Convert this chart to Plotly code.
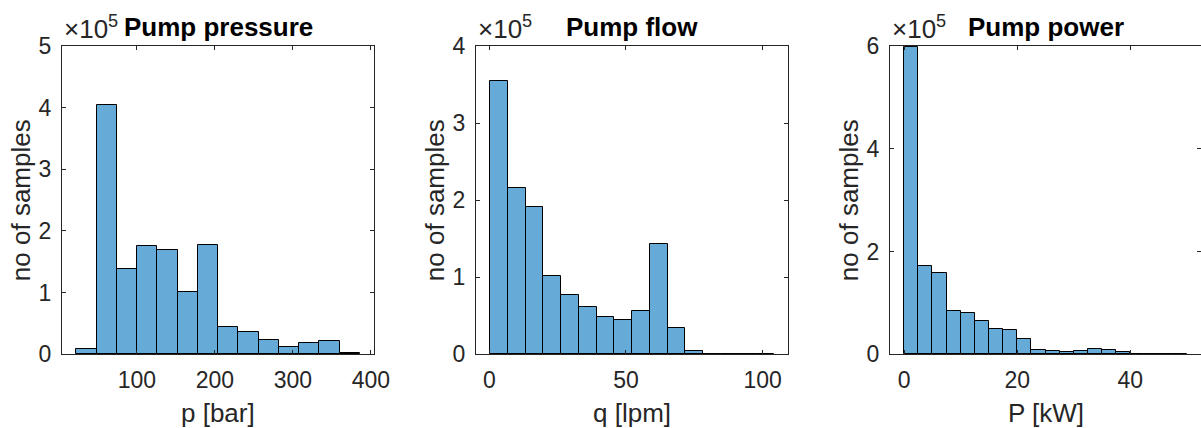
import plotly.graph_objects as go

# ---- data (counts in units of 1e5 samples) ----
pressure_edges_start = 22.3
pressure_bin_width = 25.97
pressure_counts = [0.08, 4.04, 1.39, 1.75, 1.69, 1.01, 1.77, 0.44, 0.36, 0.23, 0.12, 0.19, 0.21, 0.016]

flow_edges_start = 0.24
flow_bin_width = 6.5
flow_counts = [3.55, 2.16, 1.91, 1.02, 0.77, 0.61, 0.49, 0.44, 0.56, 1.43, 0.34, 0.04, 0.006, 0.004, 0.003, 0.002]

power_edges_start = 0.0
power_bin_width = 2.5
power_counts = [5.98, 1.71, 1.58, 0.84, 0.80, 0.65, 0.49, 0.47, 0.29, 0.09, 0.07, 0.045, 0.06, 0.11, 0.08,
                0.04, 0.015, 0.008, 0.004, 0.003]

titles = ["Pump pressure", "Pump flow", "Pump power"]
xlabels = ["p [bar]", "q [lpm]", "P [kW]"]
ylabel = "no of samples"
xranges = [[4, 404], [-4.9, 109.3], [-2.5, 52.5]]
yranges = [[0, 5], [0, 4], [0, 6]]
xticks = [[100, 200, 300, 400], [0, 50, 100], [0, 20, 40]]
yticks = [[0, 1, 2, 3, 4, 5], [0, 1, 2, 3, 4], [0, 2, 4, 6]]

W, H = 1201, 428
left_px = [62, 476, 890]
xdoms = [[62 / W, 374 / W], [476 / W, 788 / W], [890 / W, 1.0]]
ydom = [(H - 354.3) / H, (H - 46) / H]

FONT = "Liberation Sans, Arial, Helvetica, sans-serif"
AX = "#262626"
BAR = "#66AAD7"

fig = go.Figure()
series = [
    (pressure_edges_start, pressure_bin_width, pressure_counts),
    (flow_edges_start, flow_bin_width, flow_counts),
    (power_edges_start, power_bin_width, power_counts),
]
for i, (start, bw, counts) in enumerate(series):
    centers = [start + bw * (k + 0.5) for k in range(len(counts))]
    sfx = "" if i == 0 else str(i + 1)
    fig.add_trace(go.Bar(
        x=centers, y=counts, width=bw,
        marker=dict(color=BAR, line=dict(color="#000000", width=1)),
        xaxis="x" + sfx, yaxis="y" + sfx, showlegend=False,
    ))
    axis_common = dict(
        showline=True, linecolor=AX, linewidth=1, mirror="ticks",
        ticks="inside", ticklen=4, tickcolor=AX, tickwidth=1,
        showgrid=False, zeroline=False, automargin=False,
        tickfont=dict(family=FONT, size=23, color=AX),
    )
    fig.layout["xaxis" + sfx] = dict(
        domain=xdoms[i], range=xranges[i], anchor="y" + sfx,
        tickmode="array", tickvals=xticks[i],
        ticklabelstandoff=5,
        **axis_common,
    )
    fig.layout["yaxis" + sfx] = dict(
        domain=ydom, range=yranges[i], anchor="x" + sfx,
        tickmode="array", tickvals=yticks[i],
        ticklabelstandoff=5,
        **axis_common,
    )
    xref = "x" + sfx + " domain"
    yref = "y" + sfx + " domain"
    # axis labels
    fig.add_annotation(
        text=xlabels[i], x=0.5, y=(H - 413) / H, xref=xref, yref="paper",
        xanchor="center", yanchor="middle", showarrow=False,
        font=dict(family=FONT, size=26, color=AX),
    )
    fig.add_annotation(
        text=ylabel, x=(left_px[i] - 41) / W, y=0.5, xref="paper", yref=yref,
        xanchor="center", yanchor="middle", textangle=-90, showarrow=False,
        font=dict(family=FONT, size=26, color=AX),
    )
    # title
    fig.add_annotation(
        text="<b>" + titles[i] + "</b>", x=0.5, y=1, xref=xref, yref=yref,
        xanchor="center", yanchor="bottom", yshift=2, showarrow=False,
        font=dict(family=FONT, size=26, color="#000000"),
    )
    # exponent
    fig.add_annotation(
        text="×10<sup>5</sup>", x=0, y=1, xref=xref, yref=yref,
        xanchor="left", yanchor="bottom", yshift=0, showarrow=False,
        font=dict(family=FONT, size=26, color=AX),
    )

fig.update_layout(
    width=W, height=H,
    margin=dict(l=0, r=0, t=0, b=0),
    paper_bgcolor="white", plot_bgcolor="white",
    bargap=0,
)
fig.write_html("out.html", config={"displayModeBar": False},
               post_script="document.body.style.margin='0';")
